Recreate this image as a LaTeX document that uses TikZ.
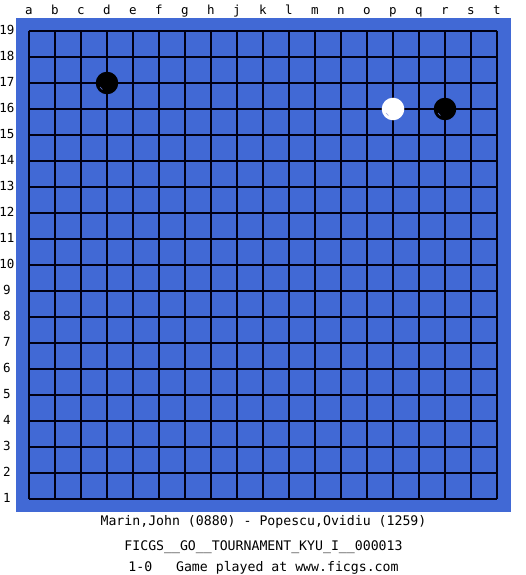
\documentclass[tikz,border=0pt]{standalone}
\usepackage{fontspec}
\newfontfamily\monofont{DejaVu Sans Mono}
\definecolor{boardblue}{RGB}{65,105,213}
\definecolor{gridline}{RGB}{0,0,20}
\definecolor{shine}{RGB}{90,110,200}
\begin{document}
\begin{tikzpicture}[x=1pt,y=-1pt,
  gridstyle/.style={draw=gridline,line width=1.05pt},
  lbl/.style={font=\monofont\fontsize{12.5}{13}\selectfont,inner sep=0pt},
  caption/.style={font=\monofont\fontsize{13.2}{14}\selectfont,inner sep=0pt},
  bstone/.style={circle,fill=black,minimum size=22.6pt,inner sep=0pt},
  wstone/.style={circle,fill=white,minimum size=22.6pt,inner sep=0pt}]
\useasboundingbox (0,0) rectangle (525,575);
\fill[white] (0,0) rectangle (525,575);
\fill[boardblue] (16,18) rectangle (511,512);
% grid
\foreach \i in {0,...,18} {
  \draw[gridstyle] (29+26*\i,31) -- (29+26*\i,499);
  \draw[gridstyle] (29,31+26*\i) -- (497,31+26*\i);
}
% column labels
\foreach \l [count=\i from 0] in {a,b,c,d,e,f,g,h,j,k,l,m,n,o,p,q,r,s,t} {
  \node[lbl,anchor=base] (col\l) at (29+26*\i,15) {\l};
}
% row labels
\foreach \r in {1,...,19} {
  \node[lbl,anchor=base] (row\r) at (7,31+26*19-26*\r+3.5) {\r};
}
% stones
\node[bstone] (d17) at (107,83) {};
\node[wstone] (p16) at (393,109) {};
\node[bstone] (r16) at (445,109) {};
\draw[shine,line width=0.7pt] (107,83) ++(125:8) arc (125:150:8);
\draw[shine,line width=0.7pt] (445,109) ++(125:8) arc (125:150:8);
\draw[shine!60,line width=0.6pt] (393,109) ++(125:8) arc (125:150:8);
% captions
\node[caption,anchor=base] (players) at (263.5,525) {Marin,John (0880) - Popescu,Ovidiu (1259)};
\node[caption,anchor=base] (event) at (263.5,550) {FICGS\_\_GO\_\_TOURNAMENT\_KYU\_I\_\_000013};
\node[caption,anchor=base] (result) at (263.5,571) {1-0\ \ \ Game played at www.ficgs.com};
\end{tikzpicture}
\end{document}
